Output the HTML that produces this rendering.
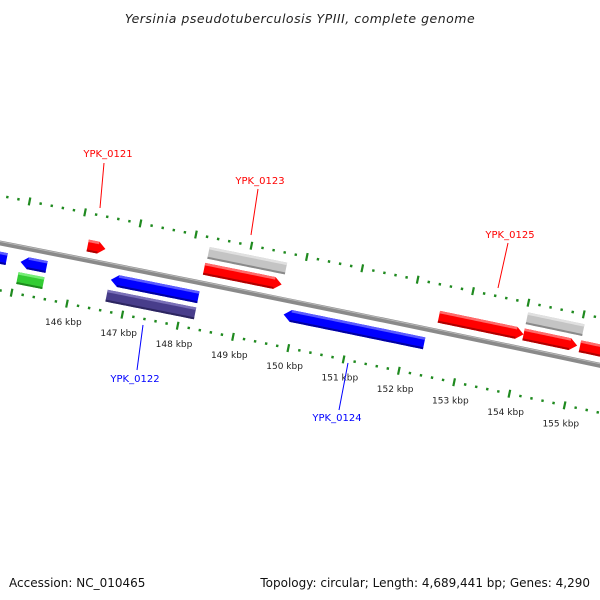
<!DOCTYPE html>
<html><head><meta charset="utf-8"><style>
html,body{margin:0;padding:0;background:#fff;}
svg{display:block;font-family:"DejaVu Sans","Liberation Sans",sans-serif;}
</style></head><body>
<svg id="map" width="600" height="600" viewBox="0 0 600 600" xmlns="http://www.w3.org/2000/svg">
<text x="300" y="23" text-anchor="middle" font-size="12.5" font-style="italic" fill="#222" letter-spacing="0.5">Yersinia pseudotuberculosis YPIII, complete genome</text>
<text x="9" y="587" font-size="12" fill="#111">Accession: NC_010465</text>
<text x="590" y="587" text-anchor="end" font-size="12" fill="#111">Topology: circular; Length: 4,689,441 bp; Genes: 4,290</text>
<g id="layer"></g>
</svg>
<script>
// data
const genomeLength = 4689.441; // kbp
const tickKbp = [146,147,148,149,150,151,152,153,154,155];
const tickLabels = ["146 kbp","147 kbp","148 kbp","149 kbp","150 kbp","151 kbp","152 kbp","153 kbp","154 kbp","155 kbp"];
const featStart = [146.16,148.26,152.50,154.03,155.05, 148.28,154.03, 144.5,145.05,146.68,149.80, 145.05,146.66];
const featEnd   = [146.48,149.66,154.03,155.00,155.80, 149.68,155.05, 144.8,145.52,148.26,152.34, 145.52,148.26];
const featStrand= [1,1,1,1,1, 0,0, -1,-1,-1,-1, 0,0];
const featRing  = [1,1,1,1,1, 2,2, -1,-1,-1,-1, -2,-2];
const featKind  = ["cds","cds","cds","cds","cds","rna","rna","cds","cds","cds","cds","other","other2"];

const NS="http://www.w3.org/2000/svg";
const layer=document.getElementById('layer');
const pxPerKbp=56.5;
const Rb=pxPerKbp*genomeLength/(2*Math.PI);
const ang=k=>k/genomeLength*2*Math.PI;
const t0=ang(146);
const Cx=76-Rb*Math.sin(t0), Cy=258+Rb*Math.cos(t0);
function pt(k,off){const t=ang(k),r=Rb+off;return [Cx+r*Math.sin(t),Cy-r*Math.cos(t)];}
function mk(tag,attrs){const e=document.createElementNS(NS,tag);for(const a in attrs)e.setAttribute(a,attrs[a]);layer.appendChild(e);return e;}
function arcPts(k1,k2,off){const n=30,a=[];for(let i=0;i<=n;i++){a.push(pt(k1+(k2-k1)*i/n,off));}return a;}
const fmt=a=>a.map(p=>p[0].toFixed(2)+','+p[1].toFixed(2)).join(' ');

// backbone
{const o=arcPts(143,157,2.5),i=arcPts(143,157,-2.5).reverse();
const e=mk('polygon',{points:fmt(o.concat(i)),fill:'#8a8a8a'});


const h=mk('polyline',{points:fmt(arcPts(143,157,1.5)),stroke:'#b8b8b8','stroke-width':1,fill:'none'});

}

// ticks
const tickOff=[46.5,-46.5];
tickOff.forEach((off,ti)=>{
  for(let k=143;k<=157.001;k+=0.2){
    const kk=Math.round(k*10)/10;
    const major=Math.abs(kk-Math.round(kk))<0.01;
    const len=major?8:2.5;
    const a=pt(kk,off-len/2),b=pt(kk,off+len/2);
    const l=mk('line',{x1:a[0],y1:a[1],x2:b[0],y2:b[1],stroke:'#1f8a1f','stroke-width':major?2.2:2.4});
    
    
  }
});
tickKbp.forEach((k,i)=>{
  const p=pt(k,-65);
  const t=mk('text',{x:p[0],y:p[1]+3,'text-anchor':'middle','font-size':9,fill:'#222'});
  t.textContent=tickLabels[i];
  
  
});

// features
const colors={cds1:['#ff0000','#ff6a6a','#b00000'],cdsm:['#0000ff','#5a5aff','#0000a0'],rna:['#c4c4c4','#e0e0e0','#8a8a8a'],other:['#33cc33','#77ee77','#1d8a1d'],other2:['#483d8b','#7a70b8','#2c2560']};
const ringOff={1:14.5,2:31,'-1':-14.5,'-2':-31};
const W=12;
featStart.forEach((s,i)=>{
  const e=featEnd[i],st=featStrand[i],off=ringOff[featRing[i]];
  let c;
  if(featKind[i]==='cds')c=st>0?colors.cds1:colors.cdsm;else c=colors[featKind[i]];
  const ah=Math.min(0.13,(e-s)*0.4);
  let pts;
  if(st>0){pts=arcPts(s,e-ah,off+W/2).concat([pt(e,off)]).concat(arcPts(s,e-ah,off-W/2).reverse());}
  else if(st<0){pts=[pt(s,off)].concat(arcPts(s+ah,e,off+W/2)).concat(arcPts(s+ah,e,off-W/2).reverse());}
  else {pts=arcPts(s,e,off+W/2).concat(arcPts(s,e,off-W/2).reverse());}
  const g=mk('polygon',{points:fmt(pts),fill:c[0]});
  
  
  const s2=st<0?s+ah:s, e2=st>0?e-ah:e;
  const hl=mk('polygon',{points:fmt(arcPts(s2,e2,off+W/2).concat(arcPts(s2,e2,off+W/2-2.5).reverse())),fill:c[1]});
  
  
  const sh=mk('polygon',{points:fmt(arcPts(s2,e2,off-W/2+2).concat(arcPts(s2,e2,off-W/2).reverse())),fill:c[2]});
  
  
});

// gene labels
const labelText=["YPK_0121","YPK_0123","YPK_0125","YPK_0122","YPK_0124"];
const labelColor=["#ff0000","#ff0000","#ff0000","#0000ff","#0000ff"];
const labelPos=[[108,157],[260,184],[510,238],[135,382],[337,421]];
const labelLine=[[104,163,100,208],[258,189,251,235],[508,243,498,288],[143,325,137,370],[348,363,339,410]];
labelText.forEach((t,i)=>{
  const L=labelLine[i];
  const l=mk('line',{x1:L[0],y1:L[1],x2:L[2],y2:L[3],stroke:labelColor[i],'stroke-width':1});
  
  
  const tx=mk('text',{x:labelPos[i][0],y:labelPos[i][1],'text-anchor':'middle','font-size':10,fill:labelColor[i]});
  tx.textContent=t;
  
  
});
</script>
</body></html>
